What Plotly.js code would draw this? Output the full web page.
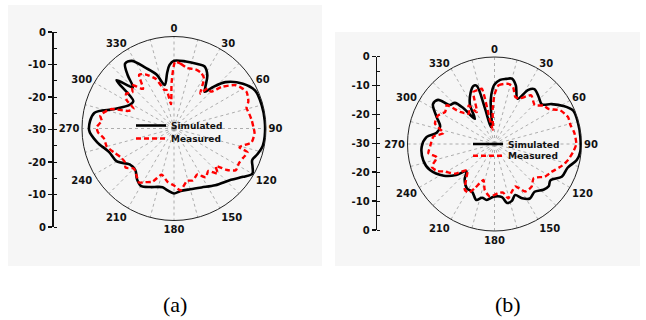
<!DOCTYPE html>
<html><head><meta charset="utf-8">
<script src="https://cdn.plot.ly/plotly-3.0.1.min.js"></script>
<style>html,body{margin:0;padding:0;background:#fff}#chart{width:646px;height:320px}</style>
</head><body><div id="chart"></div>
<script>
// ---- data (radiation patterns, dB) ----
const thetaSimA = [0,10,20,26,32,37,40,43,48,57,65,75,85,95,101,107,112,116,120,125,132,144,155,165,174,180,186,191,196,202,210,216,223,231,240,250,260,269,281,288,298,304,310,315,319,323,328,335,342,348,353,356];
const simA      = [-7.9,-7.8,-7.6,-7.4,-9.5,-13,-14.4,-11.7,-7.4,-3.2,-0.8,-0.4,-0.3,-0.3,-0.5,-1.5,-2.5,-1.5,-0.5,-2.5,-5,-7.1,-8.8,-9.5,-9.5,-8.8,-9.7,-10.5,-10.2,-9.4,-8.4,-9.5,-11.5,-11.4,-8.5,-7.5,-4.5,-2.3,-3.5,-9.5,-13.6,-14,-5.5,-11,-7,-3.5,-4,-8.2,-11.5,-15.5,-11.7,-9.2];
const thetaMeasA = [1,6,12,20,26,31,37,40,45,49,55,63,70,74,79,84,89,93,100,106,108,113,118,124,128,132,136,141,147,153,160,166,174,180,187,195,202,208,213,217,225,231,236,242,248,255,262,267,271,276,280,287,291,296,301,306,311,316,322,327,332,340,346,349,353,357];
const measA      = [-8.2,-8.8,-9.8,-9.5,-9.8,-11,-15.7,-12.9,-13,-9.3,-5.4,-3.5,-4.2,-5.4,-5,-4.5,-4.1,-3.7,-4.3,-7.8,-4.8,-5.5,-6,-5.7,-8,-11.7,-9.5,-12.2,-11,-13.2,-12,-12.4,-9.7,-11.4,-12.5,-14.4,-11.3,-10.2,-9,-10,-11.5,-9.7,-10.6,-10.2,-9,-7.3,-6.9,-5.2,-4.8,-6.3,-5.6,-8.4,-14,-15.3,-12,-10.7,-12,-10.3,-13.6,-9.1,-10,-12.8,-17,-17.2,-22,-15];

const thetaSimB = [0,5,10,15,20,27,32,36,43,50,55,61,67,76,85,95,101,108,116,123,128,133,140,147,153,158,163,168,172,181,188,193,198,205,212,220,226,231,238,248,257,268,276,281,288,295,303,308,311,316,319,322,328,335,340,343,345,348,352,355,358];
const simB      = [-9.5,-7.8,-7.2,-6.7,-8.5,-12.5,-8,-6.6,-7.7,-8.7,-6,-2.9,-0.5,-0.3,-0.3,-0.3,-1.1,-3.5,-4.2,-7,-6.3,-6.9,-8.5,-7.6,-9,-11,-9.5,-9.2,-11.5,-11.8,-10.5,-11,-9.7,-11.8,-12,-14,-16.5,-13,-9.4,-6,-4.8,-4.9,-6.5,-9.7,-10.3,-8,-4.7,-5.3,-9.5,-10.3,-13.7,-19,-14,-10.5,-8.7,-9,-17,-24,-23,-15,-11];
const thetaMeasB = [0,4,13,18,24,29,37,46,52,57,63,70,76,82,90,96,102,108,116,123,131,139,147,154,160,166,170,176,185,192,197,204,208,213,220,226,233,241,245,250,257,262,268,277,282,289,297,303,309,313,320,326,331,338,344,347,349,353,357];
const measB      = [-13,-9.7,-8.7,-9.3,-12.3,-12,-9,-10.7,-8.5,-7.8,-4.5,-3,-3,-2.2,-1.8,-2.8,-4,-5.6,-8.1,-9.3,-12.1,-10.5,-10.5,-13.7,-12.5,-10.7,-13,-13,-11.8,-13.8,-17,-13.3,-11,-11.2,-15,-17,-13,-10.4,-8.1,-7,-9.6,-7,-7.8,-8.8,-12,-8.3,-8.2,-9.7,-8.8,-13.8,-16.3,-14,-17.4,-10.6,-10.5,-10.4,-21,-25,-18];

const angleTicks = [0,15,30,45,60,75,90,105,120,135,150,165,180,195,210,225,240,255,270,285,300,315,330,345];
const angleLabels = ['0','','30','','60','','90','','120','','150','','180','','210','','240','','270','','300','','330',''];
const leftTickVals = [-30,-20,-10,0,10,20,30];
const leftTickText = ['0','-10','-20','-30','-20','-10','0'];
const seriesNames = ['Simulated','Measured'];
const captions = ['(a)','(b)'];

const close = a => a.concat([a[0]]);
const boldFont = (s) => ({family:'DejaVu Sans', size:s, color:'#111', weight:'bold'});

function polarTrace(th, r, sub, name, leg, sim){
  return {type:'scatterpolar', theta: close(th), r: close(r), subplot: sub, name: name,
    legend: leg, mode:'lines', hoverinfo:'skip',
    line: sim ? {color:'#000', width:2.6, shape:'spline', smoothing:0.9}
              : {color:'#ff0000', width:2.4, dash:'5px,3px', shape:'spline', smoothing:0.6}};
}

const traces = [
  polarTrace(thetaSimA, simA, 'polar', seriesNames[0], 'legend', true),
  polarTrace(thetaMeasA, measA, 'polar', seriesNames[1], 'legend2', false),
  polarTrace(thetaSimB, simB, 'polar2', seriesNames[0], 'legend3', true),
  polarTrace(thetaMeasB, measB, 'polar2', seriesNames[1], 'legend4', false),
  {type:'scatter', x:[null], y:[null], xaxis:'x', yaxis:'y', showlegend:false, hoverinfo:'skip'},
  {type:'scatter', x:[null], y:[null], xaxis:'x2', yaxis:'y2', showlegend:false, hoverinfo:'skip'}
];

const W = 646, H = 320;
function polarLayout(cx, cy, R){
  return {
    domain:{x:[(cx-R)/W,(cx+R)/W], y:[1-(cy+R)/H, 1-(cy-R)/H]},
    bgcolor:'rgba(0,0,0,0)',
    radialaxis:{range:[-30,0], showgrid:false, showline:false, showticklabels:false, ticks:''},
    angularaxis:{rotation:90, direction:'clockwise', tickmode:'array', tickvals:angleTicks, ticktext:angleLabels,
      showline:true, linecolor:'#222', linewidth:1, gridcolor:'#9a9a9a', gridwidth:0.8, griddash:'dot',
      ticks:'', tickfont: boldFont(10)}
  };
}
function leftAxis(xpx, ytop, ybot){
  return {anchor:'free', position:xpx/W, domain:[1-ybot/H, 1-ytop/H], range:[-30,30],
    tickmode:'array', tickvals:leftTickVals, ticktext:leftTickText, showgrid:false, zeroline:false,
    showline:true, linecolor:'#111', linewidth:1.5, ticks:'outside', ticklen:4, tickwidth:1.5, tickcolor:'#111',
    tickfont: boldFont(10), fixedrange:true,
    minor:{tickmode:'linear', tick0:-30, dtick:5, ticks:'inside', ticklen:3, tickwidth:1, tickcolor:'#111'}};
}
function legendAt(textX, lineY){
  return {x:(textX-40)/W, y:1-lineY/H, xanchor:'left', yanchor:'middle', bgcolor:'rgba(0,0,0,0)',
    borderwidth:0, font:boldFont(9), itemwidth:30};
}

const layout = {
  width:W, height:H, margin:{l:0,r:0,t:0,b:0}, paper_bgcolor:'#fff', plot_bgcolor:'rgba(0,0,0,0)',
  showlegend:true,
  polar: polarLayout(174, 128.5, 92),
  polar2: polarLayout(494.5, 144, 87),
  xaxis:{domain:[0.0,0.01], visible:false, range:[0,1]},
  xaxis2:{domain:[0.5,0.51], visible:false, range:[0,1]},
  yaxis: leftAxis(52, 32, 227),
  yaxis2: leftAxis(375.7, 56.7, 230),
  legend: legendAt(171, 125.5),
  legend2: legendAt(171, 138.5),
  legend3: legendAt(508, 144),
  legend4: legendAt(508, 155.7),
  shapes:[
    {type:'rect', xref:'paper', yref:'paper', x0:8/W, x1:322/W, y0:1-266/H, y1:1-5/H, fillcolor:'#f6f6f6', line:{width:0}, layer:'below'},
    {type:'rect', xref:'paper', yref:'paper', x0:335/W, x1:640/W, y0:1-266/H, y1:1-32/H, fillcolor:'#f6f6f6', line:{width:0}, layer:'below'}
  ],
  annotations:[
    {text:captions[0], xref:'paper', yref:'paper', x:174.7/W, y:1-304/H, showarrow:false, xanchor:'center', yanchor:'middle',
     font:{family:'Liberation Serif', size:22, color:'#000'}},
    {text:captions[1], xref:'paper', yref:'paper', x:508.3/W, y:1-304/H, showarrow:false, xanchor:'center', yanchor:'middle',
     font:{family:'Liberation Serif', size:22, color:'#000'}}
  ]
};
Plotly.newPlot('chart', traces, layout, {staticPlot:true, displayModeBar:false});
</script></body></html>
